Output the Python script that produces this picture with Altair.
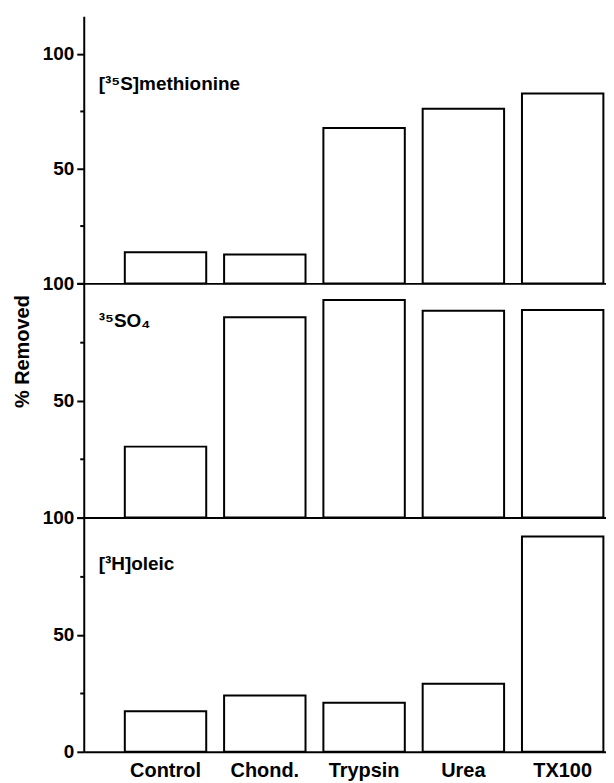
import altair as alt
import pandas as pd

# ---- data ----
treatments = ["Control", "Chond.", "Trypsin", "Urea", "TX100"]
methionine = [13.6, 12.6, 67.7, 76.0, 82.7]
sulfate = [30.3, 85.5, 92.9, 88.3, 88.6]
oleic = [17.3, 24.0, 20.9, 29.1, 91.9]
panel_labels = ["[³⁵S]methionine", "³⁵SO₄", "[³H]oleic"]
label_levels = [87, 84, 80]
y_ticks = [0, 25, 50, 75, 100]

FONT = "Liberation Sans"
W = 524

xscale = alt.Scale(domain=treatments, paddingInner=0.18, paddingOuter=0.22, align=0.94)

tick_size = {"condition": {"test": "datum.value % 50 === 0", "value": 7}, "value": 4}


def panel(values, label, level, ymax, height, bottom=False, title=None):
    df = pd.DataFrame({"treatment": treatments, "removed": values})
    if bottom:
        lab_expr = "datum.value % 50 === 0 ? datum.label : ''"
        x_axis = alt.Axis(title=None, ticks=False, labelAngle=0, labelPadding=9,
                          labelFontSize=20, labelFontWeight="bold")
    else:
        lab_expr = "datum.value === 50 || datum.value === 100 ? datum.label : ''"
        x_axis = alt.Axis(title=None, ticks=False, labels=False)
    y_kwargs = dict(values=y_ticks, labelExpr=lab_expr, tickSize=tick_size,
                    labelPadding=3, labelFontSize=19, labelFontWeight="bold")
    if title:
        y_axis = alt.Axis(title=title, titleX=-61, titleY=68, titleAngle=270,
                          titleAlign="center", titleBaseline="middle",
                          titleFontSize=20, titleFontWeight="bold", titleFont=FONT,
                          **y_kwargs)
    else:
        y_axis = alt.Axis(title=None, **y_kwargs)
    yscale = alt.Scale(domain=[0, ymax], nice=False, zero=True)
    bars = alt.Chart(df).mark_bar(fill="white", stroke="black", strokeWidth=2).encode(
        x=alt.X("treatment:N", sort=treatments, scale=xscale, axis=x_axis),
        y=alt.Y("removed:Q", scale=yscale, axis=y_axis),
    )
    txt = alt.Chart(pd.DataFrame({"label": [label]})).mark_text(
        align="left", baseline="middle", fontSize=19, font=FONT, fontWeight="bold", color="black"
    ).encode(
        x=alt.value(15),
        y=alt.datum(level),
        text="label:N",
    )
    return alt.layer(bars, txt).properties(width=W, height=height)


top = panel(methionine, panel_labels[0], label_levels[0], 116.3, 268)
mid = panel(sulfate, panel_labels[1], label_levels[1], 100, 235, title="% Removed")
bot = panel(oleic, panel_labels[2], label_levels[2], 100, 235, bottom=True)

chart = alt.vconcat(top, mid, bot, spacing=0, bounds="flush").properties(
    padding={"left": 5, "top": 7, "right": 0, "bottom": 0}
).configure_view(stroke=None).configure_axis(
    domainColor="black", domainWidth=2, tickColor="black", tickWidth=2,
    labelColor="black", labelFont=FONT, grid=False, titleColor="black"
)

chart.save("out.html", embed_options={"renderer": "svg", "actions": False})
